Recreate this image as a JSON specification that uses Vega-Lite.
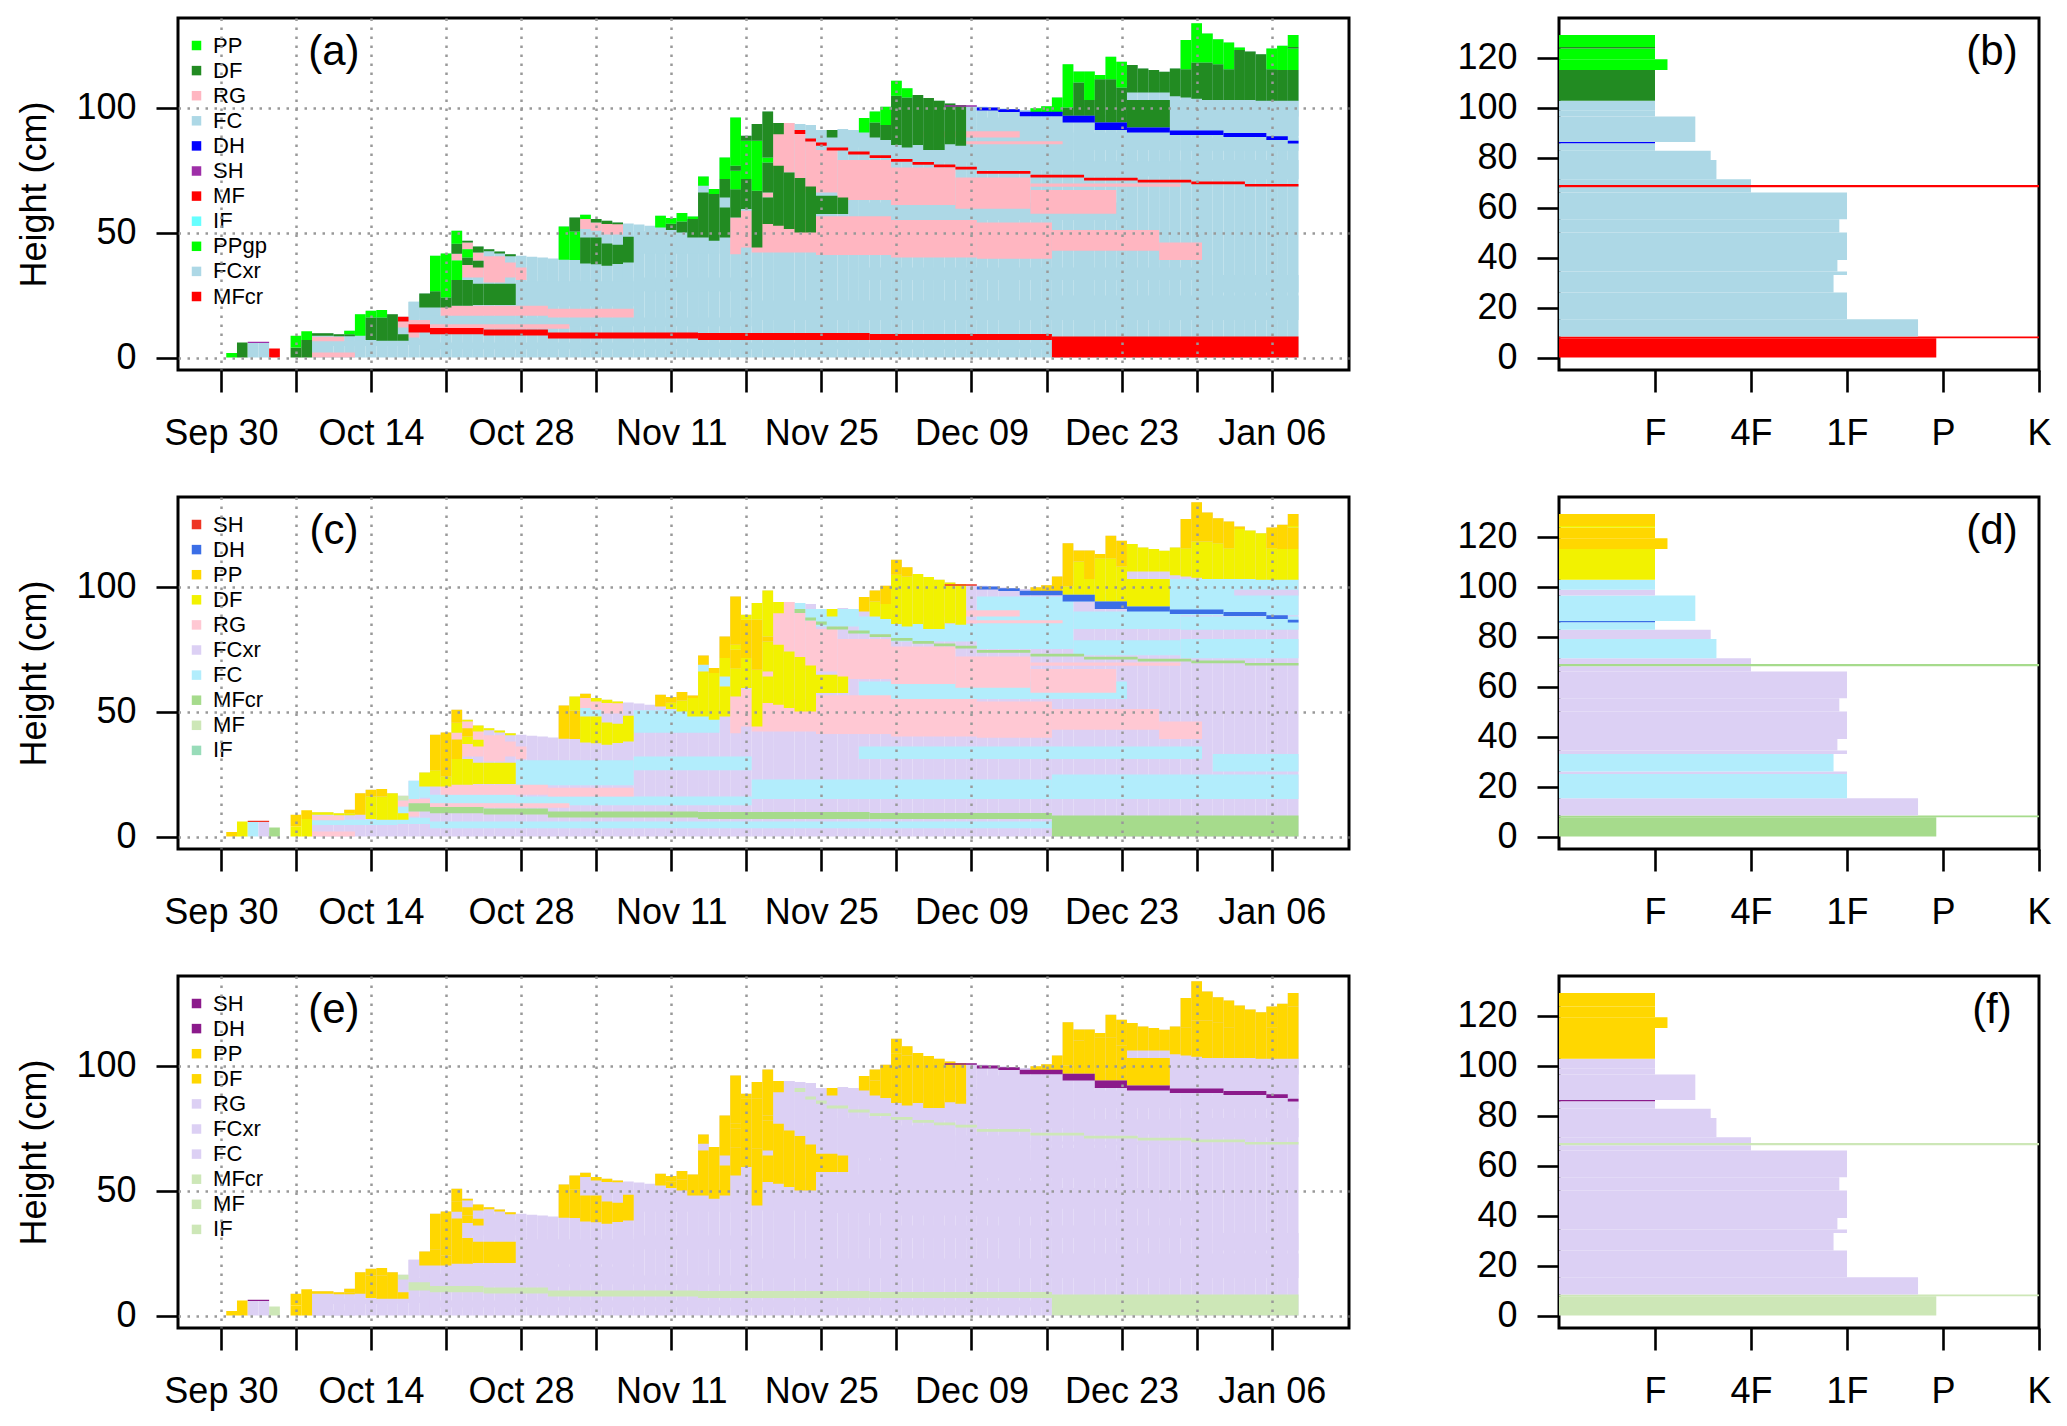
{
  "$schema": "https://vega.github.io/schema/vega-lite/v6.json",
  "background": "white",
  "padding": {"left": 15, "top": 16, "right": 8, "bottom": 2},
  "config": {
    "view": {"stroke": "black", "strokeWidth": 3},
    "font": "Liberation Sans",
    "axis": {"labelFont": "Liberation Sans", "labelFontSize": 36, "labelColor": "black", "titleFont": "Liberation Sans", "titleFontSize": 36, "titleFontWeight": "normal", "titleColor": "black", "tickColor": "black", "tickSize": 22, "tickWidth": 2.6, "domain": false, "labelOverlap": false, "labelFlush": false, "labelBound": false, "labelPadding": 20, "grid": false},
    "axisX": {"labelPadding": 24},
    "legend": {"labelFont": "Liberation Sans", "labelFontSize": 22, "labelColor": "black", "symbolType": "square", "symbolSize": 90, "symbolStrokeWidth": 0, "labelOffset": 5.6, "rowPadding": 3.1, "padding": 0, "symbolOpacity": 1}
  },
  "datasets": {
    "snow": [
      {"t0":"2019-10-01","t1":"2019-10-02","h0":0,"h1":1.8,"g":"PP"},
      {"t0":"2019-10-02","t1":"2019-10-03","h0":0,"h1":6,"g":"DF"},
      {"t0":"2019-10-03","t1":"2019-10-04","h0":0,"h1":6,"g":"FC"},
      {"t0":"2019-10-04","t1":"2019-10-05","h0":0,"h1":5.8,"g":"FCxr"},
      {"t0":"2019-10-05","t1":"2019-10-06","h0":0,"h1":3.6,"g":"MFcr"},
      {"t0":"2019-10-09","t1":"2019-10-11","h0":0,"h1":9.7,"g":"FCxr"},
      {"t0":"2019-10-11","t1":"2019-10-12","h0":0,"h1":9.3,"g":"FCxr"},
      {"t0":"2019-10-12","t1":"2019-10-13","h0":0,"h1":10.7,"g":"FCxr"},
      {"t0":"2019-10-13","t1":"2019-10-14","h0":0,"h1":17.3,"g":"FCxr"},
      {"t0":"2019-10-14","t1":"2019-10-15","h0":0,"h1":18.7,"g":"FCxr"},
      {"t0":"2019-10-15","t1":"2019-10-16","h0":0,"h1":19,"g":"FCxr"},
      {"t0":"2019-10-16","t1":"2019-10-17","h0":0,"h1":17.3,"g":"FCxr"},
      {"t0":"2019-10-17","t1":"2019-10-18","h0":0,"h1":16.3,"g":"FCxr"},
      {"t0":"2019-10-18","t1":"2019-10-19","h0":0,"h1":22.3,"g":"FCxr"},
      {"t0":"2019-10-19","t1":"2019-10-20","h0":0,"h1":25.6,"g":"FCxr"},
      {"t0":"2019-10-20","t1":"2019-10-21","h0":0,"h1":40.7,"g":"FCxr"},
      {"t0":"2019-10-21","t1":"2019-10-22","h0":0,"h1":41.6,"g":"FCxr"},
      {"t0":"2019-10-22","t1":"2019-10-23","h0":0,"h1":50.7,"g":"FCxr"},
      {"t0":"2019-10-23","t1":"2019-10-24","h0":0,"h1":46.7,"g":"FCxr"},
      {"t0":"2019-10-24","t1":"2019-10-25","h0":0,"h1":44.4,"g":"FCxr"},
      {"t0":"2019-10-25","t1":"2019-10-26","h0":0,"h1":43.3,"g":"FCxr"},
      {"t0":"2019-10-26","t1":"2019-10-27","h0":0,"h1":42.4,"g":"FCxr"},
      {"t0":"2019-10-27","t1":"2019-10-28","h0":0,"h1":41.3,"g":"FCxr"},
      {"t0":"2019-10-28","t1":"2019-10-29","h0":0,"h1":40.7,"g":"FCxr"},
      {"t0":"2019-10-29","t1":"2019-10-30","h0":0,"h1":40.3,"g":"FCxr"},
      {"t0":"2019-10-30","t1":"2019-10-31","h0":0,"h1":40,"g":"FCxr"},
      {"t0":"2019-10-31","t1":"2019-11-01","h0":0,"h1":39.6,"g":"FCxr"},
      {"t0":"2019-11-01","t1":"2019-11-02","h0":0,"h1":52.4,"g":"FCxr"},
      {"t0":"2019-11-02","t1":"2019-11-03","h0":0,"h1":56,"g":"FCxr"},
      {"t0":"2019-11-03","t1":"2019-11-04","h0":0,"h1":57.1,"g":"FCxr"},
      {"t0":"2019-11-04","t1":"2019-11-05","h0":0,"h1":55.4,"g":"FCxr"},
      {"t0":"2019-11-05","t1":"2019-11-06","h0":0,"h1":54.7,"g":"FCxr"},
      {"t0":"2019-11-06","t1":"2019-11-07","h0":0,"h1":54,"g":"FCxr"},
      {"t0":"2019-11-07","t1":"2019-11-08","h0":0,"h1":53.6,"g":"FCxr"},
      {"t0":"2019-11-08","t1":"2019-11-09","h0":0,"h1":53.2,"g":"FCxr"},
      {"t0":"2019-11-09","t1":"2019-11-10","h0":0,"h1":52.7,"g":"FCxr"},
      {"t0":"2019-11-10","t1":"2019-11-11","h0":0,"h1":56.7,"g":"FCxr"},
      {"t0":"2019-11-11","t1":"2019-11-12","h0":0,"h1":55.8,"g":"FCxr"},
      {"t0":"2019-11-12","t1":"2019-11-13","h0":0,"h1":57.8,"g":"FCxr"},
      {"t0":"2019-11-13","t1":"2019-11-14","h0":0,"h1":56.4,"g":"FCxr"},
      {"t0":"2019-11-14","t1":"2019-11-15","h0":0,"h1":72.4,"g":"FCxr"},
      {"t0":"2019-11-15","t1":"2019-11-16","h0":0,"h1":67.4,"g":"FCxr"},
      {"t0":"2019-11-16","t1":"2019-11-17","h0":0,"h1":80,"g":"FCxr"},
      {"t0":"2019-11-17","t1":"2019-11-18","h0":0,"h1":96,"g":"FCxr"},
      {"t0":"2019-11-18","t1":"2019-11-19","h0":0,"h1":88.7,"g":"FCxr"},
      {"t0":"2019-11-19","t1":"2019-11-20","h0":0,"h1":93.4,"g":"FCxr"},
      {"t0":"2019-11-20","t1":"2019-11-21","h0":0,"h1":98.4,"g":"FCxr"},
      {"t0":"2019-11-21","t1":"2019-11-23","h0":0,"h1":93.8,"g":"FCxr"},
      {"t0":"2019-11-23","t1":"2019-11-24","h0":0,"h1":93.4,"g":"FCxr"},
      {"t0":"2019-11-24","t1":"2019-11-25","h0":0,"h1":93,"g":"FCxr"},
      {"t0":"2019-11-25","t1":"2019-11-27","h0":0,"h1":91,"g":"FCxr"},
      {"t0":"2019-11-27","t1":"2019-11-28","h0":0,"h1":91.4,"g":"FCxr"},
      {"t0":"2019-11-28","t1":"2019-11-29","h0":0,"h1":90.7,"g":"FCxr"},
      {"t0":"2019-11-29","t1":"2019-11-30","h0":0,"h1":95.8,"g":"FCxr"},
      {"t0":"2019-11-30","t1":"2019-12-01","h0":0,"h1":98.4,"g":"FCxr"},
      {"t0":"2019-12-01","t1":"2019-12-02","h0":0,"h1":100.3,"g":"FCxr"},
      {"t0":"2019-12-02","t1":"2019-12-03","h0":0,"h1":110.7,"g":"FCxr"},
      {"t0":"2019-12-03","t1":"2019-12-04","h0":0,"h1":107.7,"g":"FCxr"},
      {"t0":"2019-12-04","t1":"2019-12-05","h0":0,"h1":105,"g":"FCxr"},
      {"t0":"2019-12-05","t1":"2019-12-06","h0":0,"h1":103.8,"g":"FCxr"},
      {"t0":"2019-12-06","t1":"2019-12-07","h0":0,"h1":102.7,"g":"FCxr"},
      {"t0":"2019-12-07","t1":"2019-12-08","h0":0,"h1":101.6,"g":"FCxr"},
      {"t0":"2019-12-08","t1":"2019-12-09","h0":0,"h1":101,"g":"FCxr"},
      {"t0":"2019-12-09","t1":"2019-12-10","h0":0,"h1":100.7,"g":"FCxr"},
      {"t0":"2019-12-10","t1":"2019-12-11","h0":0,"h1":100.3,"g":"FCxr"},
      {"t0":"2019-12-11","t1":"2019-12-12","h0":0,"h1":100,"g":"FCxr"},
      {"t0":"2019-12-12","t1":"2019-12-13","h0":0,"h1":99.6,"g":"FCxr"},
      {"t0":"2019-12-13","t1":"2019-12-14","h0":0,"h1":99.3,"g":"FCxr"},
      {"t0":"2019-12-14","t1":"2019-12-15","h0":0,"h1":99,"g":"FCxr"},
      {"t0":"2019-12-15","t1":"2019-12-16","h0":0,"h1":99.7,"g":"FCxr"},
      {"t0":"2019-12-16","t1":"2019-12-17","h0":0,"h1":100.5,"g":"FCxr"},
      {"t0":"2019-12-17","t1":"2019-12-18","h0":0,"h1":104,"g":"FCxr"},
      {"t0":"2019-12-18","t1":"2019-12-19","h0":0,"h1":117.3,"g":"FCxr"},
      {"t0":"2019-12-19","t1":"2019-12-21","h0":0,"h1":114.4,"g":"FCxr"},
      {"t0":"2019-12-21","t1":"2019-12-22","h0":0,"h1":113,"g":"FCxr"},
      {"t0":"2019-12-22","t1":"2019-12-23","h0":0,"h1":120.3,"g":"FCxr"},
      {"t0":"2019-12-23","t1":"2019-12-24","h0":0,"h1":118.3,"g":"FCxr"},
      {"t0":"2019-12-24","t1":"2019-12-25","h0":0,"h1":117,"g":"FCxr"},
      {"t0":"2019-12-25","t1":"2019-12-26","h0":0,"h1":115.6,"g":"FCxr"},
      {"t0":"2019-12-26","t1":"2019-12-27","h0":0,"h1":115,"g":"FCxr"},
      {"t0":"2019-12-27","t1":"2019-12-28","h0":0,"h1":114.3,"g":"FCxr"},
      {"t0":"2019-12-28","t1":"2019-12-29","h0":0,"h1":115.6,"g":"FCxr"},
      {"t0":"2019-12-29","t1":"2019-12-30","h0":0,"h1":127,"g":"FCxr"},
      {"t0":"2019-12-30","t1":"2019-12-31","h0":0,"h1":133.7,"g":"FCxr"},
      {"t0":"2019-12-31","t1":"2020-01-01","h0":0,"h1":129.6,"g":"FCxr"},
      {"t0":"2020-01-01","t1":"2020-01-02","h0":0,"h1":127.3,"g":"FCxr"},
      {"t0":"2020-01-02","t1":"2020-01-03","h0":0,"h1":126,"g":"FCxr"},
      {"t0":"2020-01-03","t1":"2020-01-04","h0":0,"h1":124,"g":"FCxr"},
      {"t0":"2020-01-04","t1":"2020-01-05","h0":0,"h1":122.4,"g":"FCxr"},
      {"t0":"2020-01-05","t1":"2020-01-06","h0":0,"h1":121.3,"g":"FCxr"},
      {"t0":"2020-01-06","t1":"2020-01-07","h0":0,"h1":123.6,"g":"FCxr"},
      {"t0":"2020-01-07","t1":"2020-01-08","h0":0,"h1":124.7,"g":"FCxr"},
      {"t0":"2020-01-08","t1":"2020-01-09","h0":0,"h1":129,"g":"FCxr"},

      {"t0":"2019-10-09","t1":"2019-10-17","h0":4.6,"h1":6.7,"g":"FC"},
      {"t0":"2019-10-17","t1":"2019-10-20","h0":5,"h1":7.5,"g":"FC"},
      {"t0":"2019-10-17","t1":"2019-10-18","h0":9.3,"h1":12,"g":"FC"},
      {"t0":"2019-10-18","t1":"2019-10-19","h0":15,"h1":22.3,"g":"FC"},
      {"t0":"2019-10-19","t1":"2019-10-20","h0":15.5,"h1":20,"g":"FC"},
      {"t0":"2019-10-20","t1":"2019-12-17","h0":3.3,"h1":6,"g":"FC"},
      {"t0":"2019-10-20","t1":"2019-10-28","h0":13.3,"h1":16.7,"g":"FC"},
      {"t0":"2019-10-28","t1":"2019-11-19","h0":12.5,"h1":16,"g":"FC"},
      {"t0":"2019-10-28","t1":"2019-11-08","h0":20.5,"h1":30.5,"g":"FC"},
      {"t0":"2019-11-08","t1":"2019-11-19","h0":26.5,"h1":32,"g":"FC"},
      {"t0":"2019-11-08","t1":"2019-11-16","h0":41.5,"h1":50.5,"g":"FC"},
      {"t0":"2019-11-19","t1":"2019-12-17","h0":15,"h1":22.8,"g":"FC"},
      {"t0":"2019-12-17","t1":"2020-01-09","h0":15,"h1":24.8,"g":"FC"},
      {"t0":"2019-11-29","t1":"2019-12-31","h0":31,"h1":36,"g":"FC"},
      {"t0":"2020-01-01","t1":"2020-01-09","h0":26,"h1":33,"g":"FC"},
      {"t0":"2019-11-29","t1":"2019-12-24","h0":55,"h1":62,"g":"FC"},
      {"t0":"2019-11-24","t1":"2019-11-29","h0":84,"h1":91,"g":"FC"},
      {"t0":"2019-11-29","t1":"2019-12-02","h0":81,"h1":88,"g":"FC"},
      {"t0":"2019-12-02","t1":"2019-12-10","h0":78,"h1":85,"g":"FC"},
      {"t0":"2019-12-10","t1":"2019-12-19","h0":75,"h1":96,"g":"FC"},
      {"t0":"2019-12-19","t1":"2019-12-29","h0":72.5,"h1":78.5,"g":"FC"},
      {"t0":"2019-12-19","t1":"2019-12-29","h0":83,"h1":90,"g":"FC"},
      {"t0":"2019-12-29","t1":"2020-01-09","h0":71.3,"h1":79,"g":"FC"},
      {"t0":"2019-12-29","t1":"2020-01-09","h0":82.7,"h1":88,"g":"FC"},
      {"t0":"2019-12-18","t1":"2019-12-24","h0":94,"h1":97,"g":"FC"},
      {"t0":"2019-12-24","t1":"2020-01-09","h0":88.5,"h1":103,"g":"FC"},
      {"t0":"2019-11-14","t1":"2019-11-15","h0":66,"h1":68.7,"g":"FC"},
      {"t0":"2019-11-16","t1":"2019-11-17","h0":60,"h1":64,"g":"FC"},
      {"t0":"2019-11-03","t1":"2019-11-04","h0":48,"h1":51.4,"g":"FC"},
      {"t0":"2019-11-04","t1":"2019-11-05","h0":48,"h1":50.7,"g":"FC"},
      {"t0":"2019-11-23","t1":"2019-11-24","h0":91,"h1":93.4,"g":"FC"},

      {"t0":"2019-10-09","t1":"2019-10-13","h0":0,"h1":2,"g":"RG"},
      {"t0":"2019-10-09","t1":"2019-10-12","h0":6.5,"h1":8.3,"g":"RG"},
      {"t0":"2019-10-17","t1":"2019-10-18","h0":12,"h1":14.4,"g":"RG"},
      {"t0":"2019-10-18","t1":"2019-10-19","h0":8,"h1":10,"g":"RG"},
      {"t0":"2019-10-18","t1":"2019-10-20","h0":13.3,"h1":15,"g":"RG"},
      {"t0":"2019-10-20","t1":"2019-11-02","h0":11.5,"h1":13.3,"g":"RG"},
      {"t0":"2019-10-21","t1":"2019-10-31","h0":16.7,"h1":20.7,"g":"RG"},
      {"t0":"2019-10-31","t1":"2019-11-08","h0":16,"h1":19.5,"g":"RG"},
      {"t0":"2019-10-23","t1":"2019-10-25","h0":32,"h1":37,"g":"RG"},
      {"t0":"2019-10-25","t1":"2019-10-27","h0":30,"h1":40.5,"g":"RG"},
      {"t0":"2019-10-27","t1":"2019-10-28","h0":32,"h1":38,"g":"RG"},
      {"t0":"2019-10-28","t1":"2019-10-29","h0":31,"h1":36,"g":"RG"},
      {"t0":"2019-11-17","t1":"2019-11-18","h0":41.3,"h1":56,"g":"RG"},
      {"t0":"2019-11-18","t1":"2019-11-19","h0":44,"h1":58.7,"g":"RG"},
      {"t0":"2019-11-19","t1":"2019-11-25","h0":42,"h1":55,"g":"RG"},
      {"t0":"2019-11-25","t1":"2019-12-02","h0":41,"h1":56.5,"g":"RG"},
      {"t0":"2019-12-02","t1":"2019-12-10","h0":40,"h1":55,"g":"RG"},
      {"t0":"2019-12-10","t1":"2019-12-17","h0":39.5,"h1":54,"g":"RG"},
      {"t0":"2019-12-17","t1":"2019-12-27","h0":42.7,"h1":51,"g":"RG"},
      {"t0":"2019-12-27","t1":"2019-12-31","h0":39,"h1":46,"g":"RG"},
      {"t0":"2019-11-21","t1":"2019-11-23","h0":74,"h1":93.8,"g":"RG"},
      {"t0":"2019-11-23","t1":"2019-11-24","h0":66,"h1":89.4,"g":"RG"},
      {"t0":"2019-11-24","t1":"2019-11-25","h0":66,"h1":86.4,"g":"RG"},
      {"t0":"2019-11-25","t1":"2019-11-27","h0":66,"h1":83,"g":"RG"},
      {"t0":"2019-11-27","t1":"2019-12-02","h0":63,"h1":79,"g":"RG"},
      {"t0":"2019-12-02","t1":"2019-12-08","h0":61,"h1":76,"g":"RG"},
      {"t0":"2019-12-08","t1":"2019-12-15","h0":59.5,"h1":72,"g":"RG"},
      {"t0":"2019-12-15","t1":"2019-12-23","h0":57.5,"h1":67,"g":"RG"},
      {"t0":"2019-12-05","t1":"2019-12-14","h0":88,"h1":90.5,"g":"RG"},
      {"t0":"2019-12-09","t1":"2019-12-18","h0":85.3,"h1":86.5,"g":"RG"},
      {"t0":"2019-12-15","t1":"2019-12-29","h0":68.3,"h1":69.6,"g":"RG"},
      {"t0":"2019-10-22","t1":"2019-10-23","h0":38.8,"h1":41.5,"g":"RG"},
      {"t0":"2019-10-23","t1":"2019-10-24","h0":43.3,"h1":46,"g":"RG"},
      {"t0":"2019-10-24","t1":"2019-10-25","h0":38.7,"h1":42,"g":"RG"},
      {"t0":"2019-11-03","t1":"2019-11-04","h0":51.4,"h1":55.4,"g":"RG"},
      {"t0":"2019-11-04","t1":"2019-11-05","h0":50.7,"h1":54,"g":"RG"},
      {"t0":"2019-11-05","t1":"2019-11-07","h0":49.2,"h1":53.4,"g":"RG"},
      {"t0":"2019-11-20","t1":"2019-11-21","h0":64,"h1":66,"g":"RG"},
      {"t0":"2020-01-03","t1":"2020-01-09","h0":96.4,"h1":98.7,"g":"FCxr"},

      {"t0":"2019-10-17","t1":"2019-10-18","h0":14.4,"h1":16.3,"g":"MF"},
      {"t0":"2019-10-18","t1":"2019-10-20","h0":10,"h1":13.3,"g":"MFcr"},
      {"t0":"2019-10-20","t1":"2019-10-25","h0":9.3,"h1":11.8,"g":"MFcr"},
      {"t0":"2019-10-25","t1":"2019-10-31","h0":8.8,"h1":11.2,"g":"MFcr"},
      {"t0":"2019-10-31","t1":"2019-11-14","h0":7.6,"h1":10,"g":"MFcr"},
      {"t0":"2019-11-14","t1":"2019-11-30","h0":7,"h1":9.8,"g":"MFcr"},
      {"t0":"2019-11-30","t1":"2019-12-17","h0":7,"h1":9.4,"g":"MFcr"},
      {"t0":"2019-12-17","t1":"2020-01-09","h0":0,"h1":8.4,"g":"MFcr"},
      {"t0":"2019-11-23","t1":"2019-11-24","h0":89.4,"h1":91,"g":"MFcr"},
      {"t0":"2019-11-24","t1":"2019-11-25","h0":86.4,"h1":87.6,"g":"MFcr"},
      {"t0":"2019-11-25","t1":"2019-11-26","h0":84.7,"h1":86,"g":"MFcr"},
      {"t0":"2019-11-26","t1":"2019-11-28","h0":82.8,"h1":84,"g":"MFcr"},
      {"t0":"2019-11-28","t1":"2019-11-30","h0":81.2,"h1":82.4,"g":"MFcr"},
      {"t0":"2019-11-30","t1":"2019-12-02","h0":79.8,"h1":80.9,"g":"MFcr"},
      {"t0":"2019-12-02","t1":"2019-12-04","h0":78.3,"h1":79.4,"g":"MFcr"},
      {"t0":"2019-12-04","t1":"2019-12-06","h0":77.1,"h1":78.2,"g":"MFcr"},
      {"t0":"2019-12-06","t1":"2019-12-08","h0":76.1,"h1":77.2,"g":"MFcr"},
      {"t0":"2019-12-08","t1":"2019-12-10","h0":75.2,"h1":76.3,"g":"MFcr"},
      {"t0":"2019-12-10","t1":"2019-12-15","h0":73.5,"h1":74.6,"g":"MFcr"},
      {"t0":"2019-12-15","t1":"2019-12-20","h0":72,"h1":73.1,"g":"MFcr"},
      {"t0":"2019-12-20","t1":"2019-12-25","h0":70.8,"h1":71.9,"g":"MFcr"},
      {"t0":"2019-12-25","t1":"2019-12-30","h0":70,"h1":71.1,"g":"MFcr"},
      {"t0":"2019-12-30","t1":"2020-01-04","h0":69.3,"h1":70.4,"g":"MFcr"},
      {"t0":"2020-01-04","t1":"2020-01-09","h0":68.4,"h1":69.4,"g":"MFcr"},

      {"t0":"2019-10-07","t1":"2019-10-08","h0":0,"h1":4,"g":"DF"},
      {"t0":"2019-10-07","t1":"2019-10-08","h0":4,"h1":8.7,"g":"PP"},
      {"t0":"2019-10-08","t1":"2019-10-09","h0":0,"h1":7,"g":"DF"},
      {"t0":"2019-10-08","t1":"2019-10-09","h0":7,"h1":10.5,"g":"PP"},
      {"t0":"2019-10-09","t1":"2019-10-11","h0":8.7,"h1":9.7,"g":"DF"},
      {"t0":"2019-10-11","t1":"2019-10-12","h0":8.5,"h1":9.3,"g":"DF"},
      {"t0":"2019-10-12","t1":"2019-10-13","h0":8.5,"h1":9.3,"g":"DF"},
      {"t0":"2019-10-12","t1":"2019-10-13","h0":9.3,"h1":10.7,"g":"PP"},
      {"t0":"2019-10-13","t1":"2019-10-14","h0":8.7,"h1":17.3,"g":"PP"},
      {"t0":"2019-10-14","t1":"2019-10-15","h0":7,"h1":16,"g":"DF"},
      {"t0":"2019-10-14","t1":"2019-10-15","h0":16,"h1":18.7,"g":"PP"},
      {"t0":"2019-10-15","t1":"2019-10-16","h0":6.7,"h1":16,"g":"DF"},
      {"t0":"2019-10-15","t1":"2019-10-16","h0":16,"h1":19,"g":"PP"},
      {"t0":"2019-10-16","t1":"2019-10-17","h0":6.7,"h1":17.3,"g":"DF"},
      {"t0":"2019-10-17","t1":"2019-10-18","h0":6.7,"h1":9.3,"g":"DF"},
      {"t0":"2019-10-19","t1":"2019-10-20","h0":20,"h1":25.6,"g":"DF"},
      {"t0":"2019-10-20","t1":"2019-10-21","h0":20,"h1":26.5,"g":"DF"},
      {"t0":"2019-10-20","t1":"2019-10-21","h0":26.5,"h1":40.7,"g":"PP"},
      {"t0":"2019-10-21","t1":"2019-10-22","h0":20,"h1":24,"g":"DF"},
      {"t0":"2019-10-21","t1":"2019-10-22","h0":24,"h1":41.6,"g":"PP"},
      {"t0":"2019-10-22","t1":"2019-10-23","h0":20.7,"h1":31,"g":"DF"},
      {"t0":"2019-10-22","t1":"2019-10-23","h0":31,"h1":38.8,"g":"PP"},
      {"t0":"2019-10-22","t1":"2019-10-23","h0":41.5,"h1":45.5,"g":"DF"},
      {"t0":"2019-10-22","t1":"2019-10-23","h0":45.5,"h1":50.7,"g":"PP"},
      {"t0":"2019-10-23","t1":"2019-10-24","h0":20.7,"h1":31,"g":"DF"},
      {"t0":"2019-10-23","t1":"2019-10-24","h0":37,"h1":40,"g":"DF"},
      {"t0":"2019-10-23","t1":"2019-10-24","h0":40,"h1":43.3,"g":"PP"},
      {"t0":"2019-10-23","t1":"2019-10-24","h0":46,"h1":46.7,"g":"DF"},
      {"t0":"2019-10-24","t1":"2019-10-25","h0":21,"h1":29.5,"g":"DF"},
      {"t0":"2019-10-24","t1":"2019-10-25","h0":36,"h1":38.7,"g":"DF"},
      {"t0":"2019-10-24","t1":"2019-10-25","h0":42,"h1":44.4,"g":"DF"},
      {"t0":"2019-10-25","t1":"2019-10-28","h0":21,"h1":29.5,"g":"DF"},
      {"t0":"2019-10-25","t1":"2019-10-26","h0":42.5,"h1":43.3,"g":"DF"},
      {"t0":"2019-10-26","t1":"2019-10-27","h0":41.6,"h1":42.4,"g":"DF"},
      {"t0":"2019-10-27","t1":"2019-10-28","h0":40.5,"h1":41.3,"g":"DF"},
      {"t0":"2019-11-01","t1":"2019-11-02","h0":39.1,"h1":52.4,"g":"PP"},
      {"t0":"2019-11-02","t1":"2019-11-03","h0":39,"h1":50.4,"g":"PP"},
      {"t0":"2019-11-02","t1":"2019-11-03","h0":50.4,"h1":56,"g":"DF"},
      {"t0":"2019-11-03","t1":"2019-11-04","h0":37.6,"h1":48,"g":"DF"},
      {"t0":"2019-11-03","t1":"2019-11-04","h0":55.4,"h1":57.1,"g":"PP"},
      {"t0":"2019-11-04","t1":"2019-11-05","h0":37.3,"h1":48,"g":"DF"},
      {"t0":"2019-11-04","t1":"2019-11-05","h0":54,"h1":55.4,"g":"DF"},
      {"t0":"2019-11-05","t1":"2019-11-06","h0":36.7,"h1":45.6,"g":"DF"},
      {"t0":"2019-11-05","t1":"2019-11-06","h0":53.4,"h1":54.7,"g":"DF"},
      {"t0":"2019-11-06","t1":"2019-11-07","h0":37.4,"h1":45.1,"g":"DF"},
      {"t0":"2019-11-06","t1":"2019-11-07","h0":53.3,"h1":54,"g":"DF"},
      {"t0":"2019-11-07","t1":"2019-11-08","h0":38,"h1":48.3,"g":"DF"},
      {"t0":"2019-11-10","t1":"2019-11-11","h0":52,"h1":56.7,"g":"PP"},
      {"t0":"2019-11-11","t1":"2019-11-12","h0":51,"h1":53.5,"g":"DF"},
      {"t0":"2019-11-11","t1":"2019-11-12","h0":53.5,"h1":55.8,"g":"PP"},
      {"t0":"2019-11-12","t1":"2019-11-13","h0":50,"h1":54.4,"g":"DF"},
      {"t0":"2019-11-12","t1":"2019-11-13","h0":54.4,"h1":57.8,"g":"PP"},
      {"t0":"2019-11-13","t1":"2019-11-14","h0":48,"h1":55.4,"g":"DF"},
      {"t0":"2019-11-13","t1":"2019-11-14","h0":55.4,"h1":56.4,"g":"PP"},
      {"t0":"2019-11-14","t1":"2019-11-15","h0":48,"h1":66,"g":"DF"},
      {"t0":"2019-11-14","t1":"2019-11-15","h0":68.7,"h1":72.4,"g":"PP"},
      {"t0":"2019-11-15","t1":"2019-11-16","h0":46.7,"h1":65.4,"g":"DF"},
      {"t0":"2019-11-15","t1":"2019-11-16","h0":65.4,"h1":67.4,"g":"PP"},
      {"t0":"2019-11-16","t1":"2019-11-17","h0":48,"h1":60,"g":"DF"},
      {"t0":"2019-11-16","t1":"2019-11-17","h0":64,"h1":71.4,"g":"DF"},
      {"t0":"2019-11-16","t1":"2019-11-17","h0":71.4,"h1":80,"g":"PP"},
      {"t0":"2019-11-17","t1":"2019-11-18","h0":56,"h1":67.3,"g":"DF"},
      {"t0":"2019-11-17","t1":"2019-11-18","h0":67.3,"h1":74.7,"g":"PP"},
      {"t0":"2019-11-17","t1":"2019-11-18","h0":74.7,"h1":76.7,"g":"DF"},
      {"t0":"2019-11-17","t1":"2019-11-18","h0":76.7,"h1":96,"g":"PP"},
      {"t0":"2019-11-18","t1":"2019-11-19","h0":59.4,"h1":71.4,"g":"DF"},
      {"t0":"2019-11-18","t1":"2019-11-19","h0":71.4,"h1":86.7,"g":"PP"},
      {"t0":"2019-11-18","t1":"2019-11-19","h0":86.7,"h1":88.7,"g":"DF"},
      {"t0":"2019-11-19","t1":"2019-11-20","h0":44,"h1":66.7,"g":"DF"},
      {"t0":"2019-11-19","t1":"2019-11-20","h0":66.7,"h1":86.7,"g":"PP"},
      {"t0":"2019-11-19","t1":"2019-11-20","h0":86.7,"h1":93.4,"g":"DF"},
      {"t0":"2019-11-20","t1":"2019-11-21","h0":53.4,"h1":64,"g":"DF"},
      {"t0":"2019-11-20","t1":"2019-11-21","h0":66,"h1":78,"g":"DF"},
      {"t0":"2019-11-20","t1":"2019-11-21","h0":78,"h1":80,"g":"PP"},
      {"t0":"2019-11-20","t1":"2019-11-21","h0":80,"h1":98.4,"g":"DF"},
      {"t0":"2019-11-21","t1":"2019-11-22","h0":52.7,"h1":76.7,"g":"DF"},
      {"t0":"2019-11-21","t1":"2019-11-22","h0":89.3,"h1":93.8,"g":"DF"},
      {"t0":"2019-11-22","t1":"2019-11-23","h0":51.4,"h1":74,"g":"DF"},
      {"t0":"2019-11-23","t1":"2019-11-24","h0":50,"h1":71.8,"g":"DF"},
      {"t0":"2019-11-24","t1":"2019-11-25","h0":50,"h1":68.4,"g":"DF"},
      {"t0":"2019-11-25","t1":"2019-11-27","h0":57.4,"h1":64.7,"g":"DF"},
      {"t0":"2019-11-26","t1":"2019-11-27","h0":88,"h1":91,"g":"DF"},
      {"t0":"2019-11-27","t1":"2019-11-28","h0":57.4,"h1":64,"g":"DF"},
      {"t0":"2019-11-29","t1":"2019-11-30","h0":90,"h1":95.8,"g":"PP"},
      {"t0":"2019-11-30","t1":"2019-12-01","h0":88,"h1":94,"g":"DF"},
      {"t0":"2019-11-30","t1":"2019-12-01","h0":94,"h1":98.4,"g":"PP"},
      {"t0":"2019-12-01","t1":"2019-12-02","h0":87,"h1":93,"g":"DF"},
      {"t0":"2019-12-01","t1":"2019-12-02","h0":93,"h1":100.3,"g":"PP"},
      {"t0":"2019-12-02","t1":"2019-12-03","h0":85,"h1":104.7,"g":"DF"},
      {"t0":"2019-12-02","t1":"2019-12-03","h0":104.7,"h1":110.7,"g":"PP"},
      {"t0":"2019-12-03","t1":"2019-12-04","h0":84,"h1":104,"g":"DF"},
      {"t0":"2019-12-03","t1":"2019-12-04","h0":104,"h1":107.7,"g":"PP"},
      {"t0":"2019-12-04","t1":"2019-12-05","h0":85,"h1":105,"g":"DF"},
      {"t0":"2019-12-05","t1":"2019-12-06","h0":83,"h1":103.8,"g":"DF"},
      {"t0":"2019-12-06","t1":"2019-12-07","h0":83,"h1":102.7,"g":"DF"},
      {"t0":"2019-12-07","t1":"2019-12-08","h0":85.3,"h1":101.6,"g":"DF"},
      {"t0":"2019-12-08","t1":"2019-12-09","h0":84.7,"h1":101,"g":"DF"},
      {"t0":"2019-12-15","t1":"2019-12-16","h0":97,"h1":99.7,"g":"PP"},
      {"t0":"2019-12-16","t1":"2019-12-17","h0":97,"h1":100.5,"g":"PP"},
      {"t0":"2019-12-17","t1":"2019-12-18","h0":97.3,"h1":104,"g":"PP"},
      {"t0":"2019-12-18","t1":"2019-12-19","h0":96.7,"h1":100,"g":"DF"},
      {"t0":"2019-12-18","t1":"2019-12-19","h0":100,"h1":117.3,"g":"PP"},
      {"t0":"2019-12-19","t1":"2019-12-20","h0":96.7,"h1":110,"g":"DF"},
      {"t0":"2019-12-19","t1":"2019-12-20","h0":110,"h1":114.4,"g":"PP"},
      {"t0":"2019-12-20","t1":"2019-12-21","h0":96.7,"h1":103,"g":"DF"},
      {"t0":"2019-12-20","t1":"2019-12-21","h0":103,"h1":114.4,"g":"PP"},
      {"t0":"2019-12-21","t1":"2019-12-22","h0":94,"h1":111.3,"g":"DF"},
      {"t0":"2019-12-21","t1":"2019-12-22","h0":111.3,"h1":113,"g":"PP"},
      {"t0":"2019-12-22","t1":"2019-12-23","h0":94,"h1":111.3,"g":"DF"},
      {"t0":"2019-12-22","t1":"2019-12-23","h0":111.3,"h1":120.3,"g":"PP"},
      {"t0":"2019-12-23","t1":"2019-12-24","h0":94,"h1":108,"g":"DF"},
      {"t0":"2019-12-23","t1":"2019-12-24","h0":108,"h1":118.3,"g":"PP"},
      {"t0":"2019-12-24","t1":"2019-12-28","h0":92,"h1":103,"g":"DF"},
      {"t0":"2019-12-24","t1":"2019-12-25","h0":106,"h1":117,"g":"DF"},
      {"t0":"2019-12-25","t1":"2019-12-26","h0":106,"h1":115.6,"g":"DF"},
      {"t0":"2019-12-26","t1":"2019-12-27","h0":106,"h1":115,"g":"DF"},
      {"t0":"2019-12-27","t1":"2019-12-28","h0":106,"h1":114.3,"g":"DF"},
      {"t0":"2019-12-28","t1":"2019-12-29","h0":104.5,"h1":115.6,"g":"DF"},
      {"t0":"2019-12-29","t1":"2019-12-30","h0":104,"h1":115.3,"g":"DF"},
      {"t0":"2019-12-29","t1":"2019-12-30","h0":115.3,"h1":127,"g":"PP"},
      {"t0":"2019-12-30","t1":"2019-12-31","h0":103.5,"h1":118,"g":"DF"},
      {"t0":"2019-12-30","t1":"2019-12-31","h0":118,"h1":133.7,"g":"PP"},
      {"t0":"2019-12-31","t1":"2020-01-01","h0":103,"h1":118,"g":"DF"},
      {"t0":"2019-12-31","t1":"2020-01-01","h0":118,"h1":129.6,"g":"PP"},
      {"t0":"2020-01-01","t1":"2020-01-02","h0":103,"h1":117.3,"g":"DF"},
      {"t0":"2020-01-01","t1":"2020-01-02","h0":117.3,"h1":127.3,"g":"PP"},
      {"t0":"2020-01-02","t1":"2020-01-03","h0":103,"h1":115.3,"g":"DF"},
      {"t0":"2020-01-02","t1":"2020-01-03","h0":115.3,"h1":126,"g":"PP"},
      {"t0":"2020-01-03","t1":"2020-01-04","h0":103,"h1":123,"g":"DF"},
      {"t0":"2020-01-03","t1":"2020-01-04","h0":123,"h1":124,"g":"PP"},
      {"t0":"2020-01-04","t1":"2020-01-05","h0":103,"h1":122.4,"g":"DF"},
      {"t0":"2020-01-05","t1":"2020-01-06","h0":102.7,"h1":121.3,"g":"DF"},
      {"t0":"2020-01-06","t1":"2020-01-07","h0":102.7,"h1":115.3,"g":"DF"},
      {"t0":"2020-01-06","t1":"2020-01-07","h0":115.3,"h1":123.6,"g":"PP"},
      {"t0":"2020-01-07","t1":"2020-01-08","h0":102.7,"h1":115,"g":"DF"},
      {"t0":"2020-01-07","t1":"2020-01-08","h0":115,"h1":124.7,"g":"PP"},
      {"t0":"2020-01-08","t1":"2020-01-09","h0":102.7,"h1":115,"g":"DF"},
      {"t0":"2020-01-08","t1":"2020-01-09","h0":115,"h1":123.6,"g":"PP"},
      {"t0":"2020-01-08","t1":"2020-01-09","h0":123.6,"h1":124.2,"g":"DF"},
      {"t0":"2020-01-08","t1":"2020-01-09","h0":124.2,"h1":129,"g":"PP"},

      {"t0":"2019-12-10","t1":"2019-12-12","h0":98.8,"h1":100,"g":"DH"},
      {"t0":"2019-12-12","t1":"2019-12-14","h0":98.2,"h1":99.3,"g":"DH"},
      {"t0":"2019-12-14","t1":"2019-12-18","h0":96.5,"h1":98.3,"g":"DH"},
      {"t0":"2019-12-18","t1":"2019-12-21","h0":94,"h1":96.7,"g":"DH"},
      {"t0":"2019-12-21","t1":"2019-12-24","h0":91,"h1":94,"g":"DH"},
      {"t0":"2019-12-24","t1":"2019-12-28","h0":90,"h1":92,"g":"DH"},
      {"t0":"2019-12-28","t1":"2020-01-02","h0":89,"h1":90.8,"g":"DH"},
      {"t0":"2020-01-02","t1":"2020-01-06","h0":88.2,"h1":89.8,"g":"DH"},
      {"t0":"2020-01-06","t1":"2020-01-08","h0":87,"h1":88.5,"g":"DH"},
      {"t0":"2020-01-08","t1":"2020-01-09","h0":85.6,"h1":86.7,"g":"DH"},
      {"t0":"2019-10-03","t1":"2019-10-05","h0":5.8,"h1":6.3,"g":"SH"},
      {"t0":"2019-12-07","t1":"2019-12-10","h0":100.3,"h1":100.9,"g":"SH"}
    ],
    "prof": [
      {"b":0,"t":7.7,"hd":3.93,"g":"MFcr"},
      {"b":7.7,"t":8.4,"hd":5,"g":"MFcr"},
      {"b":8.4,"t":15.3,"hd":3.74,"g":"FCxr"},
      {"b":15.3,"t":25,"hd":3.0,"g":"FC"},
      {"b":25,"t":26,"hd":3.0,"g":"FCxr"},
      {"b":26,"t":33,"hd":2.86,"g":"FC"},
      {"b":33,"t":34.4,"hd":3.0,"g":"FCxr"},
      {"b":34.4,"t":39,"hd":2.9,"g":"FCxr"},
      {"b":39,"t":50,"hd":3.0,"g":"FCxr"},
      {"b":50,"t":55.3,"hd":2.92,"g":"FCxr"},
      {"b":55.3,"t":66,"hd":3.0,"g":"FCxr"},
      {"b":66,"t":68.1,"hd":2.0,"g":"FCxr"},
      {"b":68.1,"t":69,"hd":5,"g":"MFcr"},
      {"b":69,"t":71.3,"hd":2.0,"g":"FCxr"},
      {"b":71.3,"t":79,"hd":1.64,"g":"FC"},
      {"b":79,"t":82.7,"hd":1.58,"g":"FCxr"},
      {"b":82.7,"t":85.7,"hd":1.0,"g":"FC"},
      {"b":85.7,"t":86.2,"hd":1.0,"g":"DH"},
      {"b":86.2,"t":96.4,"hd":1.42,"g":"FC"},
      {"b":96.4,"t":98.7,"hd":1.0,"g":"FCxr"},
      {"b":98.7,"t":102.7,"hd":1.0,"g":"FC"},
      {"b":102.7,"t":115,"hd":1.0,"g":"DF"},
      {"b":115,"t":119.3,"hd":1.13,"g":"PP"},
      {"b":119.3,"t":123.6,"hd":1.0,"g":"PP"},
      {"b":123.6,"t":124.2,"hd":1.0,"g":"DF"},
      {"b":124.2,"t":129,"hd":1.0,"g":"PP"}
    ]
  },
  "spacing": 42,
  "resolve": {"scale": {"color": "independent"}, "legend": {"color": "independent"}},
  "vconcat": [
    {
      "spacing": 104,
      "resolve": {"scale": {"color": "independent"}, "legend": {"color": "independent"}},
      "hconcat": [
        {
          "width": 1171, "height": 352,
          "layer": [
            {
              "data": {"name": "snow"},
              "mark": {"type": "rect"},
              "encoding": {
                "x": {"field": "t0", "type": "temporal", "scale": {"type": "utc", "domain": [{"year": 2019, "month": "sep", "date": 26, "hours": 12, "utc": true}, {"year": 2020, "month": "jan", "date": 13, "hours": 17, "utc": true}]},
                  "axis": {"title": null, "values": [{"year":2019,"month":"sep","date":30,"hours":12,"utc":true},{"year":2019,"month":"oct","date":7,"hours":12,"utc":true},{"year":2019,"month":"oct","date":14,"hours":12,"utc":true},{"year":2019,"month":"oct","date":21,"hours":12,"utc":true},{"year":2019,"month":"oct","date":28,"hours":12,"utc":true},{"year":2019,"month":"nov","date":4,"hours":12,"utc":true},{"year":2019,"month":"nov","date":11,"hours":12,"utc":true},{"year":2019,"month":"nov","date":18,"hours":12,"utc":true},{"year":2019,"month":"nov","date":25,"hours":12,"utc":true},{"year":2019,"month":"dec","date":2,"hours":12,"utc":true},{"year":2019,"month":"dec","date":9,"hours":12,"utc":true},{"year":2019,"month":"dec","date":16,"hours":12,"utc":true},{"year":2019,"month":"dec","date":23,"hours":12,"utc":true},{"year":2019,"month":"dec","date":30,"hours":12,"utc":true},{"year":2020,"month":"jan","date":6,"hours":12,"utc":true}],
                    "labelExpr": "indexof(['Sep 30','Oct 14','Oct 28','Nov 11','Nov 25','Dec 09','Dec 23','Jan 06'], utcFormat(datum.value, '%b %d')) >= 0 ? utcFormat(datum.value, '%b %d') : ''",
                    "grid": true, "gridDash": [2.5, 6.5], "gridColor": "#999999", "gridWidth": 2.5, "zindex": 1}},
                "x2": {"field": "t1"},
                "y": {"field": "h0", "type": "quantitative", "scale": {"domain": [-5, 135.8], "nice": false, "zero": false},
                  "axis": {"title": "Height (cm)", "values": [0, 50, 100], "titlePadding": 22, "grid": true, "gridDash": [2.5, 6.5], "gridColor": "#999999", "gridWidth": 2.5, "zindex": 1}},
                "y2": {"field": "h1"},
                "color": {"field": "g", "type": "nominal",
                  "scale": {"domain": ["PP","DF","RG","FC","DH","SH","MF","IF","PPgp","FCxr","MFcr"], "range": ["#00FF00","#228B22","#FFB6C1","#ADD8E6","#0000FF","#9E2FA8","#FF0000","#66FFFF","#00FF00","#ADD8E6","#FF0000"]},
                  "legend": {"title": null, "orient": "none", "legendX": 7.5, "legendY": 16.5}}
              }
            },
            {
              "data": {"values": [{"t": "2019-10-11T01:00:00Z", "h": 122.3, "s": "(a)"}]},
              "mark": {"type": "text", "fontSize": 42, "align": "center", "baseline": "middle", "color": "black", "font": "Liberation Sans"},
              "encoding": {"x": {"field": "t", "type": "temporal"}, "y": {"field": "h", "type": "quantitative"}, "text": {"field": "s"}}
            }
          ]
        },
        {
          "width": 480, "height": 352,
          "layer": [
            {
              "data": {"name": "prof"},
              "mark": {"type": "rect"},
              "encoding": {
                "x": {"field": "hd", "type": "quantitative", "scale": {"domain": [0, 5], "nice": false, "zero": false},
                  "axis": {"title": null, "values": [1, 2, 3, 4, 5], "labelExpr": "datum.value == 1 ? 'F' : datum.value == 2 ? '4F' : datum.value == 3 ? '1F' : datum.value == 4 ? 'P' : 'K'"}},
                "x2": {"datum": 0},
                "y": {"field": "b", "type": "quantitative", "scale": {"domain": [-5, 135.8], "nice": false, "zero": false},
                  "axis": {"title": null, "values": [0, 20, 40, 60, 80, 100, 120]}},
                "y2": {"field": "t"},
                "color": {"field": "g", "type": "nominal",
                  "scale": {"domain": ["PP","DF","RG","FC","DH","SH","MF","IF","PPgp","FCxr","MFcr"], "range": ["#00FF00","#228B22","#FFB6C1","#ADD8E6","#0000FF","#9E2FA8","#FF0000","#66FFFF","#00FF00","#ADD8E6","#FF0000"]},
                  "legend": null}
              }
            },
            {
              "data": {"values": [{"x": 4.51, "h": 122.3, "s": "(b)"}]},
              "mark": {"type": "text", "fontSize": 42, "align": "center", "baseline": "middle", "color": "black", "font": "Liberation Sans"},
              "encoding": {"x": {"field": "x", "type": "quantitative"}, "y": {"field": "h", "type": "quantitative"}, "text": {"field": "s"}}
            }
          ]
        }
      ]
    },
    {
      "spacing": 104,
      "resolve": {"scale": {"color": "independent"}, "legend": {"color": "independent"}},
      "hconcat": [
        {
          "width": 1171, "height": 352,
          "layer": [
            {
              "data": {"name": "snow"},
              "mark": {"type": "rect"},
              "encoding": {
                "x": {"field": "t0", "type": "temporal", "scale": {"type": "utc", "domain": [{"year": 2019, "month": "sep", "date": 26, "hours": 12, "utc": true}, {"year": 2020, "month": "jan", "date": 13, "hours": 17, "utc": true}]},
                  "axis": {"title": null, "values": [{"year":2019,"month":"sep","date":30,"hours":12,"utc":true},{"year":2019,"month":"oct","date":7,"hours":12,"utc":true},{"year":2019,"month":"oct","date":14,"hours":12,"utc":true},{"year":2019,"month":"oct","date":21,"hours":12,"utc":true},{"year":2019,"month":"oct","date":28,"hours":12,"utc":true},{"year":2019,"month":"nov","date":4,"hours":12,"utc":true},{"year":2019,"month":"nov","date":11,"hours":12,"utc":true},{"year":2019,"month":"nov","date":18,"hours":12,"utc":true},{"year":2019,"month":"nov","date":25,"hours":12,"utc":true},{"year":2019,"month":"dec","date":2,"hours":12,"utc":true},{"year":2019,"month":"dec","date":9,"hours":12,"utc":true},{"year":2019,"month":"dec","date":16,"hours":12,"utc":true},{"year":2019,"month":"dec","date":23,"hours":12,"utc":true},{"year":2019,"month":"dec","date":30,"hours":12,"utc":true},{"year":2020,"month":"jan","date":6,"hours":12,"utc":true}],
                    "labelExpr": "indexof(['Sep 30','Oct 14','Oct 28','Nov 11','Nov 25','Dec 09','Dec 23','Jan 06'], utcFormat(datum.value, '%b %d')) >= 0 ? utcFormat(datum.value, '%b %d') : ''",
                    "grid": true, "gridDash": [2.5, 6.5], "gridColor": "#999999", "gridWidth": 2.5, "zindex": 1}},
                "x2": {"field": "t1"},
                "y": {"field": "h0", "type": "quantitative", "scale": {"domain": [-5, 135.8], "nice": false, "zero": false},
                  "axis": {"title": "Height (cm)", "values": [0, 50, 100], "titlePadding": 22, "grid": true, "gridDash": [2.5, 6.5], "gridColor": "#999999", "gridWidth": 2.5, "zindex": 1}},
                "y2": {"field": "h1"},
                "color": {"field": "g", "type": "nominal",
                  "scale": {"domain": ["SH","DH","PP","DF","RG","FCxr","FC","MFcr","MF","IF"], "range": ["#EE3524","#3B6EE6","#FFD700","#F2F200","#FFC8D3","#DCD0F4","#B2EDFC","#A6DB8C","#CDE7B7","#98DCB9"]},
                  "legend": {"title": null, "orient": "none", "legendX": 7.5, "legendY": 16.5}}
              }
            },
            {
              "data": {"values": [{"t": "2019-10-11T01:00:00Z", "h": 122.3, "s": "(c)"}]},
              "mark": {"type": "text", "fontSize": 42, "align": "center", "baseline": "middle", "color": "black", "font": "Liberation Sans"},
              "encoding": {"x": {"field": "t", "type": "temporal"}, "y": {"field": "h", "type": "quantitative"}, "text": {"field": "s"}}
            }
          ]
        },
        {
          "width": 480, "height": 352,
          "layer": [
            {
              "data": {"name": "prof"},
              "mark": {"type": "rect"},
              "encoding": {
                "x": {"field": "hd", "type": "quantitative", "scale": {"domain": [0, 5], "nice": false, "zero": false},
                  "axis": {"title": null, "values": [1, 2, 3, 4, 5], "labelExpr": "datum.value == 1 ? 'F' : datum.value == 2 ? '4F' : datum.value == 3 ? '1F' : datum.value == 4 ? 'P' : 'K'"}},
                "x2": {"datum": 0},
                "y": {"field": "b", "type": "quantitative", "scale": {"domain": [-5, 135.8], "nice": false, "zero": false},
                  "axis": {"title": null, "values": [0, 20, 40, 60, 80, 100, 120]}},
                "y2": {"field": "t"},
                "color": {"field": "g", "type": "nominal",
                  "scale": {"domain": ["SH","DH","PP","DF","RG","FCxr","FC","MFcr","MF","IF"], "range": ["#EE3524","#3B6EE6","#FFD700","#F2F200","#FFC8D3","#DCD0F4","#B2EDFC","#A6DB8C","#CDE7B7","#98DCB9"]},
                  "legend": null}
              }
            },
            {
              "data": {"values": [{"x": 4.51, "h": 122.3, "s": "(d)"}]},
              "mark": {"type": "text", "fontSize": 42, "align": "center", "baseline": "middle", "color": "black", "font": "Liberation Sans"},
              "encoding": {"x": {"field": "x", "type": "quantitative"}, "y": {"field": "h", "type": "quantitative"}, "text": {"field": "s"}}
            }
          ]
        }
      ]
    },
    {
      "spacing": 104,
      "resolve": {"scale": {"color": "independent"}, "legend": {"color": "independent"}},
      "hconcat": [
        {
          "width": 1171, "height": 352,
          "layer": [
            {
              "data": {"name": "snow"},
              "mark": {"type": "rect"},
              "encoding": {
                "x": {"field": "t0", "type": "temporal", "scale": {"type": "utc", "domain": [{"year": 2019, "month": "sep", "date": 26, "hours": 12, "utc": true}, {"year": 2020, "month": "jan", "date": 13, "hours": 17, "utc": true}]},
                  "axis": {"title": null, "values": [{"year":2019,"month":"sep","date":30,"hours":12,"utc":true},{"year":2019,"month":"oct","date":7,"hours":12,"utc":true},{"year":2019,"month":"oct","date":14,"hours":12,"utc":true},{"year":2019,"month":"oct","date":21,"hours":12,"utc":true},{"year":2019,"month":"oct","date":28,"hours":12,"utc":true},{"year":2019,"month":"nov","date":4,"hours":12,"utc":true},{"year":2019,"month":"nov","date":11,"hours":12,"utc":true},{"year":2019,"month":"nov","date":18,"hours":12,"utc":true},{"year":2019,"month":"nov","date":25,"hours":12,"utc":true},{"year":2019,"month":"dec","date":2,"hours":12,"utc":true},{"year":2019,"month":"dec","date":9,"hours":12,"utc":true},{"year":2019,"month":"dec","date":16,"hours":12,"utc":true},{"year":2019,"month":"dec","date":23,"hours":12,"utc":true},{"year":2019,"month":"dec","date":30,"hours":12,"utc":true},{"year":2020,"month":"jan","date":6,"hours":12,"utc":true}],
                    "labelExpr": "indexof(['Sep 30','Oct 14','Oct 28','Nov 11','Nov 25','Dec 09','Dec 23','Jan 06'], utcFormat(datum.value, '%b %d')) >= 0 ? utcFormat(datum.value, '%b %d') : ''",
                    "grid": true, "gridDash": [2.5, 6.5], "gridColor": "#999999", "gridWidth": 2.5, "zindex": 1}},
                "x2": {"field": "t1"},
                "y": {"field": "h0", "type": "quantitative", "scale": {"domain": [-5, 135.8], "nice": false, "zero": false},
                  "axis": {"title": "Height (cm)", "values": [0, 50, 100], "titlePadding": 22, "grid": true, "gridDash": [2.5, 6.5], "gridColor": "#999999", "gridWidth": 2.5, "zindex": 1}},
                "y2": {"field": "h1"},
                "color": {"field": "g", "type": "nominal",
                  "scale": {"domain": ["SH","DH","PP","DF","RG","FCxr","FC","MFcr","MF","IF"], "range": ["#8B1A8B","#8B1A8B","#FFD700","#FFD700","#DCD0F4","#DCD0F4","#DCD0F4","#CDE7B7","#CDE7B7","#CDE7B7"]},
                  "legend": {"title": null, "orient": "none", "legendX": 7.5, "legendY": 16.5}}
              }
            },
            {
              "data": {"values": [{"t": "2019-10-11T01:00:00Z", "h": 122.3, "s": "(e)"}]},
              "mark": {"type": "text", "fontSize": 42, "align": "center", "baseline": "middle", "color": "black", "font": "Liberation Sans"},
              "encoding": {"x": {"field": "t", "type": "temporal"}, "y": {"field": "h", "type": "quantitative"}, "text": {"field": "s"}}
            }
          ]
        },
        {
          "width": 480, "height": 352,
          "layer": [
            {
              "data": {"name": "prof"},
              "mark": {"type": "rect"},
              "encoding": {
                "x": {"field": "hd", "type": "quantitative", "scale": {"domain": [0, 5], "nice": false, "zero": false},
                  "axis": {"title": null, "values": [1, 2, 3, 4, 5], "labelExpr": "datum.value == 1 ? 'F' : datum.value == 2 ? '4F' : datum.value == 3 ? '1F' : datum.value == 4 ? 'P' : 'K'"}},
                "x2": {"datum": 0},
                "y": {"field": "b", "type": "quantitative", "scale": {"domain": [-5, 135.8], "nice": false, "zero": false},
                  "axis": {"title": null, "values": [0, 20, 40, 60, 80, 100, 120]}},
                "y2": {"field": "t"},
                "color": {"field": "g", "type": "nominal",
                  "scale": {"domain": ["SH","DH","PP","DF","RG","FCxr","FC","MFcr","MF","IF"], "range": ["#8B1A8B","#8B1A8B","#FFD700","#FFD700","#DCD0F4","#DCD0F4","#DCD0F4","#CDE7B7","#CDE7B7","#CDE7B7"]},
                  "legend": null}
              }
            },
            {
              "data": {"values": [{"x": 4.51, "h": 122.3, "s": "(f)"}]},
              "mark": {"type": "text", "fontSize": 42, "align": "center", "baseline": "middle", "color": "black", "font": "Liberation Sans"},
              "encoding": {"x": {"field": "x", "type": "quantitative"}, "y": {"field": "h", "type": "quantitative"}, "text": {"field": "s"}}
            }
          ]
        }
      ]
    }
  ]
}
